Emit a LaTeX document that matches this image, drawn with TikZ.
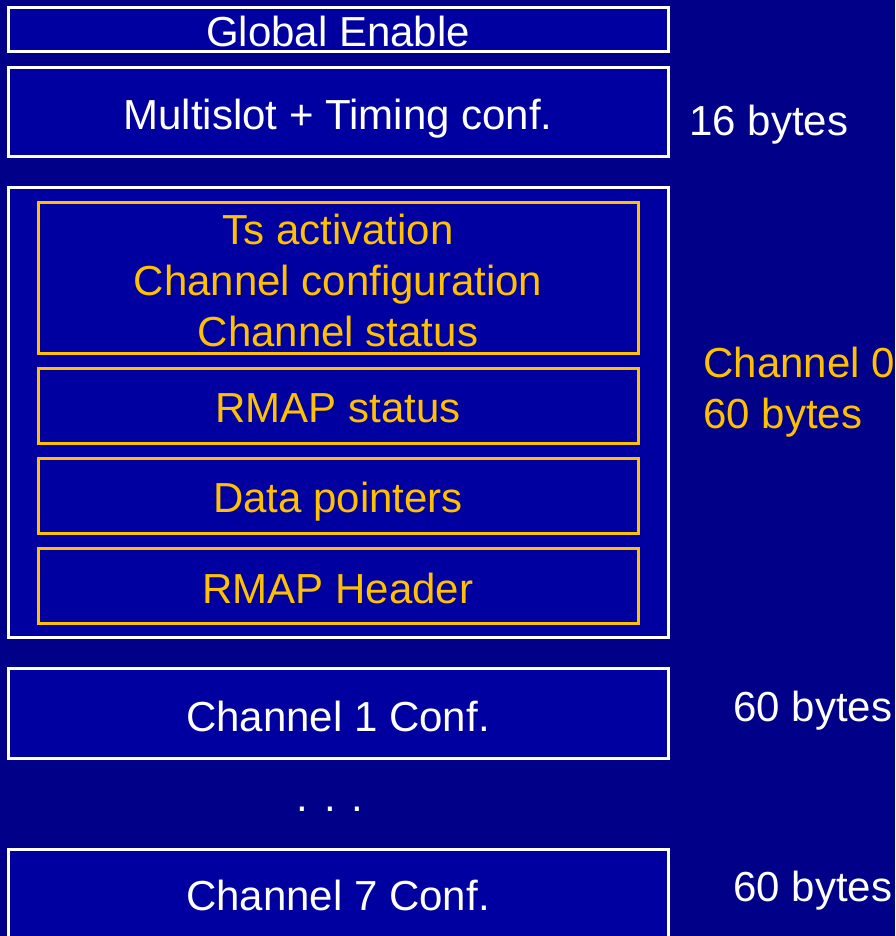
\documentclass[tikz,border=0pt]{standalone}
\usepackage{fontspec}
\setmainfont{Liberation Sans}
\usetikzlibrary{fit}
\definecolor{bgblue}{RGB}{0,0,136}
\definecolor{boxblue}{RGB}{0,0,160}
\definecolor{goldtxt}{RGB}{255,192,0}
\begin{document}
\begin{tikzpicture}[x=0.5pt,y=-0.5pt,
  wbox/.style={draw=white, line width=1.5pt, fill=boxblue, inner sep=0pt},
  ybox/.style={draw=goldtxt, line width=1.5pt, inner sep=0pt},
  lbl/.style={font=\fontsize{21}{25.5}\selectfont, inner sep=0pt, anchor=base},
  wl/.style={lbl, text=white},
  yl/.style={lbl, text=goldtxt},
  side/.style={anchor=base west}]
  % page and background
  \fill[bgblue] (0,0) rectangle (895,936);
  \useasboundingbox (0,0) rectangle (895,936);

  % outer white blocks
  \node[wbox, fit={(8,8) (668,52)}] (ge) {};
  \node[wbox, fit={(8,68) (668,157)}] (ms) {};
  \node[wbox, fit={(8,188) (668,637)}] (ch0) {};
  \node[wbox, fit={(8,668) (668,758)}] (ch1) {};
  \node[wbox, fit={(8,849) (668,950)}] (ch7) {};

  % channel 0 sub-blocks
  \node[ybox, fit={(38,203) (638,353)}] (ts) {};
  \node[ybox, fit={(38,368) (638,443)}] (rs) {};
  \node[ybox, fit={(38,458) (638,533)}] (dp) {};
  \node[ybox, fit={(38,548) (638,623)}] (rh) {};

  % block texts
  \node[wl] (tge) at (338,47) {Global Enable};
  \node[wl] (tms) at (338,130) {Multislot + Timing conf.};
  \node[yl] (tts1) at (338,244) {Ts activation};
  \node[yl] (tts2) at (338,295) {Channel configuration};
  \node[yl] (tts3) at (338,346) {Channel status};
  \node[yl] (trs) at (338,422) {RMAP status};
  \node[yl] (tdp) at (338,512) {Data pointers};
  \node[yl] (trh) at (338,603) {RMAP Header};
  \node[wl] (tch1) at (338,731) {Channel 1 Conf.};
  \node[wl] (tdots) at (330,811) {. . .};
  \node[wl] (tch7) at (338,910) {Channel 7 Conf.};

  % sizes on the right
  \node[wl, side] (s16) at (689,136) {16 bytes};
  \node[yl, side] (sch0a) at (703,377) {Channel 0};
  \node[yl, side] (sch0b) at (703,428) {60 bytes};
  \node[wl, side] (sch1) at (733,721) {60 bytes};
  \node[wl, side] (sch7) at (733,901) {60 bytes};
\end{tikzpicture}
\end{document}
